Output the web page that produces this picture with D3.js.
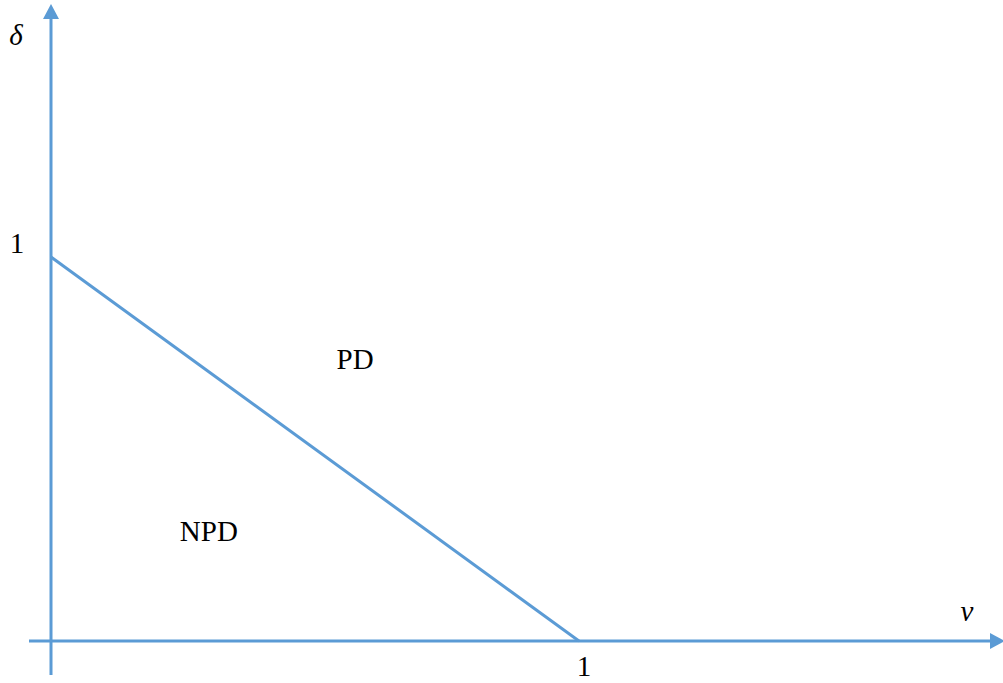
<!doctype html>
<html>
  <head>
    <script src="https://cdn.jsdelivr.net/npm/d3@7"></script>
    <style>
      body { margin: 0; background: #fff; }
      text { font-family: "Liberation Serif", "Times New Roman", serif; font-size: 29px; fill: #000; }
      .axis-name { font-style: italic; }
    </style>
  </head>
  <body>
    <script>
      // boundary between the two regions: delta = 1 - v
      var boundaryV = [0, 1];
      var boundaryDelta = [1, 0];
      var tickLabels = ["1"];
      var regionNames = ["PD", "NPD"];
      var regionV = [0.576, 0.299];
      var regionDelta = [0.708, 0.26];

      var W = 1003, H = 683, blue = "#5b9bd5";

      var x = d3.scaleLinear().domain([0, 1]).range([51, 579]);
      var y = d3.scaleLinear().domain([0, 1]).range([641, 257]);

      var svg = d3.select("body").append("svg")
          .attr("width", W).attr("height", H);

      // axes
      svg.append("line")
          .attr("x1", x(0)).attr("x2", x(0))
          .attr("y1", 675).attr("y2", 18)
          .attr("stroke", blue).attr("stroke-width", 3);
      svg.append("path")
          .attr("d", `M${x(0)},4 L${x(0) - 8},19 L${x(0) + 8},19 Z`)
          .attr("fill", blue);

      svg.append("line")
          .attr("x1", 29).attr("x2", 998)
          .attr("y1", y(0)).attr("y2", y(0))
          .attr("stroke", blue).attr("stroke-width", 3);
      svg.append("path")
          .attr("d", `M1005,${y(0)} L990,${y(0) - 8} L990,${y(0) + 8} Z`)
          .attr("fill", blue);

      // boundary line
      var line = d3.line().x(d => x(d[0])).y(d => y(d[1]));
      svg.append("path")
          .datum(boundaryV.map((v, i) => [v, boundaryDelta[i]]))
          .attr("d", line)
          .attr("fill", "none")
          .attr("stroke", blue)
          .attr("stroke-width", 3);

      // tick labels
      svg.append("text")
          .attr("x", 17).attr("y", y(1) - 4)
          .attr("text-anchor", "middle")
          .text(tickLabels[0]);
      svg.append("text")
          .attr("x", x(1) + 5).attr("y", 676)
          .attr("text-anchor", "middle")
          .text(tickLabels[0]);

      // axis names
      svg.append("text").attr("class", "axis-name")
          .attr("x", 16).attr("y", 45)
          .attr("text-anchor", "middle")
          .text("δ");
      svg.append("text").attr("class", "axis-name")
          .attr("x", 967).attr("y", 621)
          .attr("text-anchor", "middle")
          .text("v");

      // region labels
      svg.selectAll(".region")
          .data(regionNames)
          .enter().append("text")
          .attr("class", "region")
          .attr("x", (d, i) => x(regionV[i]))
          .attr("y", (d, i) => y(regionDelta[i]))
          .attr("text-anchor", "middle")
          .text(d => d);
    </script>
  </body>
</html>
